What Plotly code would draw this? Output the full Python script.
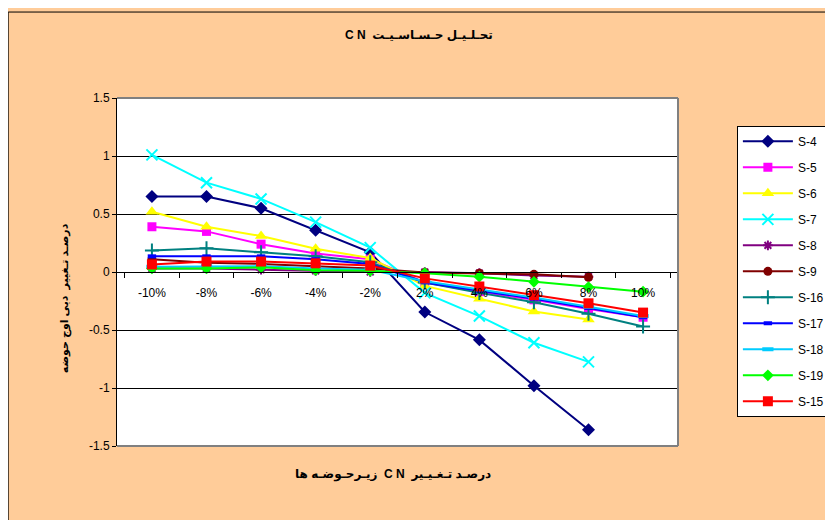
import plotly.graph_objects as go

categories = ["-10%", "-8%", "-6%", "-4%", "-2%", "2%", "4%", "6%", "8%", "10%"]

s4 = [0.65, 0.65, 0.55, 0.36, 0.17, -0.345, -0.585, -0.98, -1.36, None]
s5 = [0.39, 0.35, 0.24, 0.16, 0.11, -0.09, -0.17, -0.24, -0.32, -0.39]
s6 = [0.52, 0.39, 0.31, 0.20, 0.12, -0.12, -0.23, -0.34, -0.41, None]
s7 = [1.01, 0.77, 0.63, 0.43, 0.21, -0.18, -0.38, -0.61, -0.775, None]
s8 = [0.03, 0.03, 0.02, 0.01, 0.0, 0.0, -0.01, -0.03, -0.04, None]
s9 = [0.11, 0.08, 0.07, 0.05, 0.03, -0.005, -0.01, -0.02, -0.045, None]
s16 = [0.185, 0.205, 0.17, 0.135, 0.085, -0.09, -0.18, -0.26, -0.36, -0.47]
s17 = [0.135, 0.135, 0.135, 0.11, 0.07, -0.09, -0.16, -0.23, -0.31, -0.39]
s18 = [0.045, 0.05, 0.05, 0.03, 0.02, -0.08, -0.15, -0.22, -0.30, -0.38]
s19 = [0.03, 0.03, 0.04, 0.015, 0.01, -0.01, -0.04, -0.085, -0.13, -0.17]
s15 = [0.065, 0.09, 0.09, 0.075, 0.055, -0.055, -0.125, -0.2, -0.27, -0.35]

series_names = ["S-4", "S-5", "S-6", "S-7", "S-8", "S-9", "S-16", "S-17", "S-18", "S-19", "S-15"]
y_tickvals = [1.5, 1, 0.5, 0, -0.5, -1, -1.5]
y_ticktext = ["1.5", "1", "0.5", "0", "-0.5", "-1", "-1.5"]

title_text = "<b>\u202bتحـلـیـل حـسـاسـیـت  C N\u202c</b>"
x_title = "<b>\u202bدرصـد تـغـیـیر  C N  زیـرحـوضـه ها\u202c</b>"
y_title = "<b>درصـد تـغییر  دبی اوج حوضه</b>"

styles = [
    dict(color="#000080", symbol="diamond", size=10),
    dict(color="#FF00FF", symbol="square", size=9),
    dict(color="#FFFF00", symbol="triangle-up", size=11),
    dict(color="#00FFFF", symbol="x-thin-open", size=11, lw=2),
    dict(color="#800080", symbol="asterisk-open", size=8, lw=2),
    dict(color="#800000", symbol="circle", size=9),
    dict(color="#008080", symbol="cross-thin-open", size=10, lw=2),
    dict(color="#0000FF", symbol="line-ew-open", size=6, lw=4),
    dict(color="#00CCFF", symbol="line-ew-open", size=8, lw=4),
    dict(color="#00FF00", symbol="diamond", size=9),
    dict(color="#FF0000", symbol="square", size=10),
]

data = [s4, s5, s6, s7, s8, s9, s16, s17, s18, s19, s15]

fig = go.Figure()
for i, (name, vals, st) in enumerate(zip(series_names, data, styles)):
    marker = dict(color=st["color"], symbol=st["symbol"], size=st["size"])
    if "lw" in st:
        marker["line"] = dict(color=st["color"], width=st["lw"])
    fig.add_trace(go.Scatter(
        x=categories, y=vals, name=name, mode="lines+markers",
        line=dict(color=st["color"], width=2),
        marker=marker, legendgroup=name, connectgaps=False,
    ))

font_family = "Arial, 'Liberation Sans', 'DejaVu Sans', sans-serif"

fig.update_layout(
    width=833, height=520,
    margin=dict(l=109, r=162, t=90, b=82),
    paper_bgcolor="#FFCC99",
    plot_bgcolor="#FFFFFF",
    font=dict(family=font_family, size=12, color="#000000"),
    showlegend=True,
    legend=dict(
        x=1.103, xanchor="left", y=0.92, yanchor="top",
        bgcolor="#FFFFFF", bordercolor="#000000", borderwidth=1,
        font=dict(size=12), itemwidth=50, tracegroupgap=7,
        traceorder="grouped",
    ),
    xaxis=dict(
        type="category", categoryorder="array", categoryarray=categories,
        anchor="free", position=0.5,
        showline=True, linecolor="#000000", linewidth=1,
        ticks="outside", tickson="boundaries", ticklen=5, tickcolor="#000000",
        showgrid=False, zeroline=False, ticklabelstandoff=10,
        tickfont=dict(size=12),
    ),
    yaxis=dict(
        range=[-1.5, 1.5], tickvals=y_tickvals, ticktext=y_ticktext,
        showline=True, linecolor="#000000", linewidth=1,
        ticks="outside", ticklen=4, tickcolor="#000000",
        showgrid=True, gridcolor="#000000", gridwidth=1,
        zeroline=False, tickfont=dict(size=12),
    ),
    annotations=[
        dict(text=title_text, xref="paper", yref="paper", x=0.539, y=1.181,
             showarrow=False, font=dict(size=12, family=font_family), xanchor="center", yanchor="middle"),
        dict(text=x_title, xref="paper", yref="paper", x=0.492, y=-0.083,
             showarrow=False, font=dict(size=12, family=font_family), xanchor="center", yanchor="middle"),
        dict(text=y_title, xref="paper", yref="paper", x=-0.0925, y=0.425, textangle=-90,
             showarrow=False, font=dict(size=11, family=font_family), xanchor="center", yanchor="middle"),
    ],
    shapes=[
        dict(type="line", xref="paper", yref="paper", x0=0, x1=1, y0=1, y1=1,
             line=dict(color="#808080", width=2)),
        dict(type="line", xref="paper", yref="paper", x0=1, x1=1, y0=0, y1=1,
             line=dict(color="#808080", width=2)),
        dict(type="line", xref="paper", yref="paper", x0=0, x1=1, y0=0, y1=0,
             line=dict(color="#808080", width=2)),
        dict(type="rect", xref="paper", yref="paper", x0=-0.194, x1=1.29, y0=-0.25, y1=1.247,
             line=dict(color="#000000", width=1)),
    ],
)

fig.write_html("out.html")
